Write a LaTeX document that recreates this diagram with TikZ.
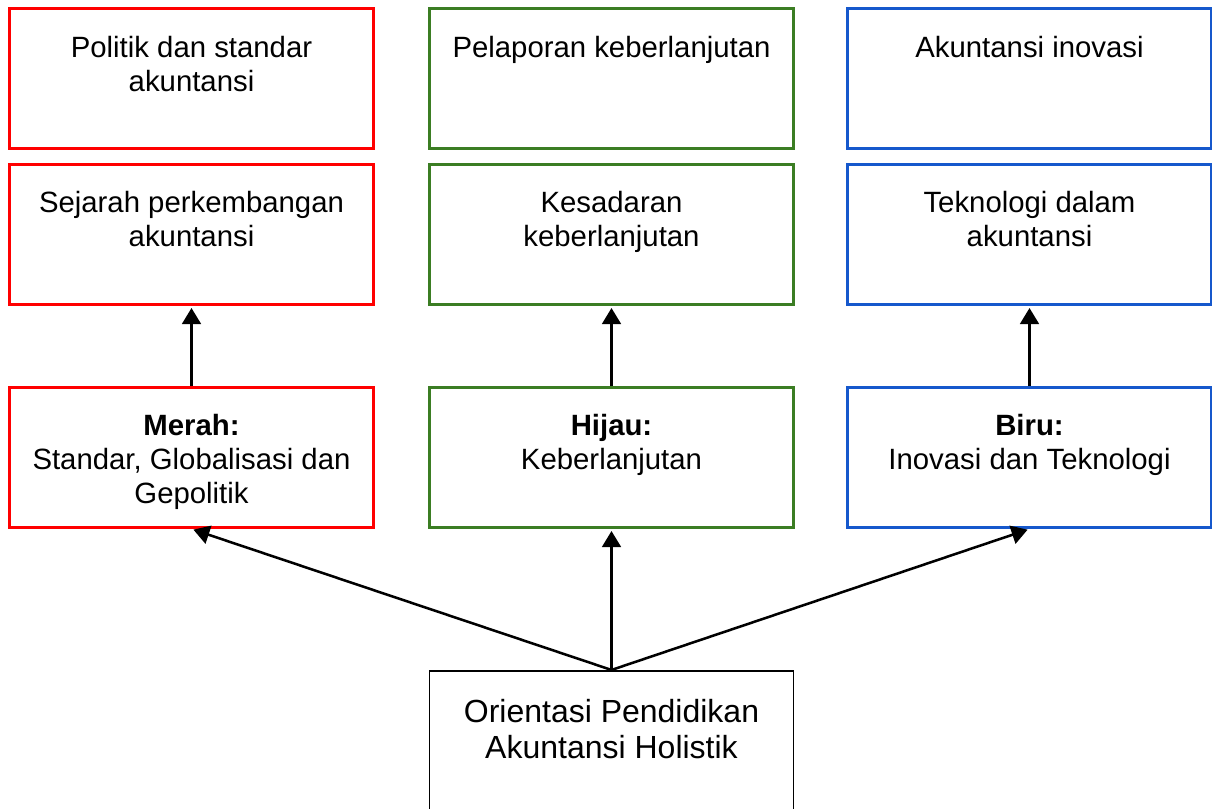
\documentclass[tikz,border=0pt]{standalone}
\usepackage{fontspec}
\setmainfont{Liberation Sans}
\usetikzlibrary{positioning, arrows.meta}
\definecolor{merah}{RGB}{255,0,0}
\definecolor{hijau}{RGB}{59,125,35}
\definecolor{biru}{RGB}{22,88,204}
\tikzset{
	kotak/.style={draw, line width=2.25pt, minimum width=273pt, minimum height=105pt, inner sep=0pt},
	isi/.style={align=center, inner sep=0pt, font=\fontsize{22}{25.5}\selectfont},
	panah/.style={line width=1.9pt, shorten >=1.5pt, -{Triangle[width=14pt, length=12pt]}},
}

\begin{document}
\begin{tikzpicture}[x=0.75pt, y=-0.75pt]
		\useasboundingbox (0, 0) rectangle (1212, 809);
		% merah
		\node[kotak, draw=merah] (m1) at (191.5, 79) {};
		\node[kotak, draw=merah] (m2) at (191.5, 234.5) {};
		\node[kotak, draw=merah] (m3) at (191.5, 457.5) {};
		\node[isi, below=21pt of m1.north] (m1t) {Politik dan standar\\akuntansi};
		\node[isi, below=21pt of m2.north] (m2t) {Sejarah perkembangan\\akuntansi};
		\node[isi, below=21pt of m3.north] (m3t) {\textbf{Merah:}\\Standar, Globalisasi dan\\Gepolitik};
		% hijau
		\node[kotak, draw=hijau] (h1) at (611.5, 79) {};
		\node[kotak, draw=hijau] (h2) at (611.5, 234.5) {};
		\node[kotak, draw=hijau] (h3) at (611.5, 457.5) {};
		\node[isi, below=21pt of h1.north] (h1t) {Pelaporan keberlanjutan};
		\node[isi, below=21pt of h2.north] (h2t) {Kesadaran\\keberlanjutan};
		\node[isi, below=21pt of h3.north] (h3t) {\textbf{Hijau:}\\Keberlanjutan};
		% biru
		\node[kotak, draw=biru] (b1) at (1029.5, 79) {};
		\node[kotak, draw=biru] (b2) at (1029.5, 234.5) {};
		\node[kotak, draw=biru] (b3) at (1029.5, 457.5) {};
		\node[isi, below=21pt of b1.north] (b1t) {Akuntansi inovasi};
		\node[isi, below=21pt of b2.north] (b2t) {Teknologi dalam\\akuntansi};
		\node[isi, below=21pt of b3.north] (b3t) {\textbf{Biru:}\\Inovasi dan Teknologi};
		% orientasi
		\node[kotak, draw=black, line width=1.2pt, minimum width=273pt] (o) at (611.5, 740.75) {};
		\node[isi, font=\fontsize{24}{27}\selectfont, below=21.5pt of o.north] (ot) {Orientasi Pendidikan\\Akuntansi Holistik};
		\draw[panah] (m3) -- (m2);
		\draw[panah] (h3) -- (h2);
		\draw[panah] (b3) -- (b2);
		\draw[panah] (o.north) -- (m3.south);
		\draw[panah] (o.north) -- (h3.south);
		\draw[panah] (o.north) -- (b3.south);
	\end{tikzpicture}
\end{document}
